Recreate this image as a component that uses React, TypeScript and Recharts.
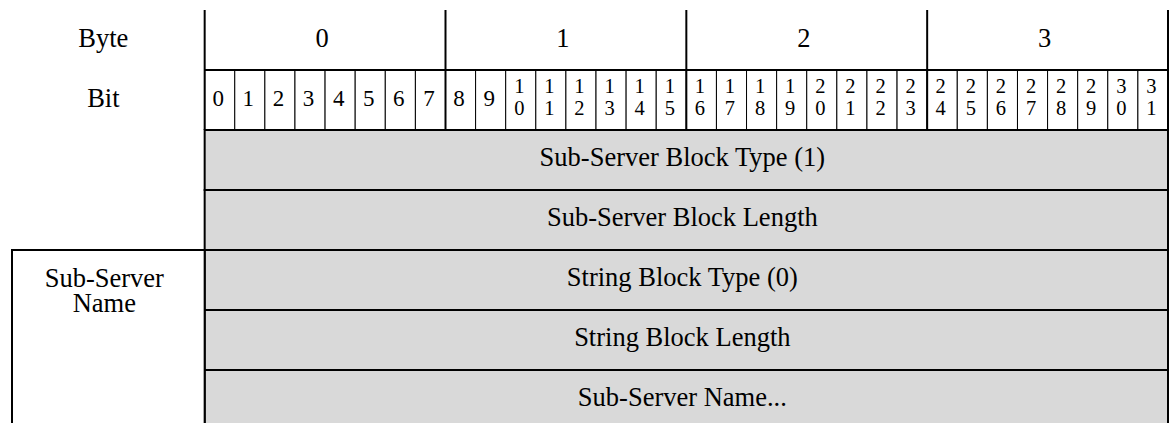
import { ComposedChart, XAxis, YAxis, ReferenceArea, ReferenceLine, Label } from "recharts";

// header labels
const headerLabels = ["Byte", "Bit"];
const byteLabels = ["0", "1", "2", "3"];
const bitLabels = [
  "0", "1", "2", "3", "4", "5", "6", "7",
  "8", "9", "10", "11", "12", "13", "14", "15",
  "16", "17", "18", "19", "20", "21", "22", "23",
  "24", "25", "26", "27", "28", "29", "30", "31",
];

// one 32-bit word per field
const fieldNames = [
  "Sub-Server Block Type (1)",
  "Sub-Server Block Length",
  "String Block Type (0)",
  "String Block Length",
  "Sub-Server Name...",
];

// bracket on the left that groups the string block fields
const groupName = ["Sub-Server", "Name"];
const groupFirstField = 2;

const W = 1172;
const H = 423;
const FONT = '"Liberation Serif", "Times New Roman", Times, serif';
const BITS = 32;
const BITS_PER_BYTE = 8;
const LABEL_COL = -6.4; // width of the left label column, in bit units
const ROW_MAX = 6.883; // rows visible in the picture
const HEADER_ROWS = headerLabels.length;

type VB = { x: number; y: number; width: number; height: number };

// text centred in a reference area; offsets are baselines relative to the row centre (or top)
function cellText(lines: string[], size: number, offsets: number[], dx = 0, fromTop = false) {
  return (props: any) => {
    const vb = props.viewBox as VB;
    if (!vb) return null;
    const cx = vb.x + vb.width / 2 + dx;
    const base = fromTop ? vb.y : vb.y + vb.height / 2;
    return (
      <g>
        {lines.map((l, i) => (
          <text
            key={i}
            x={cx}
            y={base + offsets[i]}
            textAnchor="middle"
            fontFamily={FONT}
            fontSize={size}
            fill="#000"
          >
            {l}
          </text>
        ))}
      </g>
    );
  };
}

// two-digit bit numbers are stacked one digit per line
function bitText(label: string) {
  if (label.length === 1) return cellText([label], 23, [5.5], -1.5);
  return cellText(label.split(""), 20.5, [-7, 14.5], -1.5);
}

export default function App() {
  const byteEdges = [0, ...byteLabels.map((_, i) => (i + 1) * BITS_PER_BYTE)];

  return (
    <div style={{ position: "absolute", left: 0, top: 0, width: W, height: H, background: "#fff" }}>
      <ComposedChart width={W} height={H} data={[]} margin={{ top: 10, right: 4, bottom: 0, left: 12 }}>
        <XAxis type="number" dataKey="x" domain={[LABEL_COL, BITS]} allowDataOverflow hide />
        <YAxis type="number" dataKey="y" domain={[0, ROW_MAX]} allowDataOverflow reversed hide />

        {/* left column labels */}
        {headerLabels.map((name, r) => (
          <ReferenceArea
            key={`h-${name}`}
            x1={LABEL_COL}
            x2={0}
            y1={r}
            y2={r + 1}
            fill="none"
            stroke="none"
            ifOverflow="visible"
          >
            <Label content={cellText([name], 26.5, [6.5], -5)} />
          </ReferenceArea>
        ))}

        {/* byte numbers */}
        {byteLabels.map((b, i) => (
          <ReferenceArea
            key={`b-${b}`}
            x1={i * BITS_PER_BYTE}
            x2={(i + 1) * BITS_PER_BYTE}
            y1={0}
            y2={1}
            fill="none"
            stroke="none"
            ifOverflow="visible"
          >
            <Label content={cellText([b], 26.5, [7], -3)} />
          </ReferenceArea>
        ))}

        {/* bit cells */}
        {bitLabels.map((b, i) => (
          <ReferenceArea
            key={`bit-${b}`}
            x1={i}
            x2={i + 1}
            y1={1}
            y2={2}
            fill="#fff"
            fillOpacity={1}
            stroke="#000"
            strokeWidth={1}
            ifOverflow="visible"
          >
            <Label content={bitText(b)} />
          </ReferenceArea>
        ))}

        {/* thick byte boundaries and header rules */}
        {byteEdges.map((e) => (
          <ReferenceLine
            key={`edge-${e}`}
            segment={[
              { x: e, y: 0 },
              { x: e, y: HEADER_ROWS },
            ]}
            stroke="#000"
            strokeWidth={2}
            ifOverflow="visible"
          />
        ))}
        {[1, HEADER_ROWS].map((r) => (
          <ReferenceLine
            key={`rule-${r}`}
            segment={[
              { x: 0, y: r },
              { x: BITS, y: r },
            ]}
            stroke="#000"
            strokeWidth={2}
            ifOverflow="visible"
          />
        ))}

        {/* field rows */}
        {fieldNames.map((f, i) => (
          <ReferenceArea
            key={`f-${i}`}
            x1={0}
            x2={BITS}
            y1={HEADER_ROWS + i}
            y2={HEADER_ROWS + i + 1}
            fill="#d9d9d9"
            fillOpacity={1}
            stroke="#000"
            strokeWidth={2}
            ifOverflow="visible"
          >
            <Label content={cellText([f], 26.5, [6], -4)} />
          </ReferenceArea>
        ))}

        {/* group bracket */}
        <ReferenceArea
          x1={LABEL_COL}
          x2={0}
          y1={HEADER_ROWS + groupFirstField}
          y2={HEADER_ROWS + fieldNames.length}
          fill="#fff"
          fillOpacity={1}
          stroke="#000"
          strokeWidth={2}
          ifOverflow="visible"
        >
          <Label content={cellText(groupName, 26.5, [37, 62], -4, true)} />
        </ReferenceArea>
      </ComposedChart>
    </div>
  );
}
